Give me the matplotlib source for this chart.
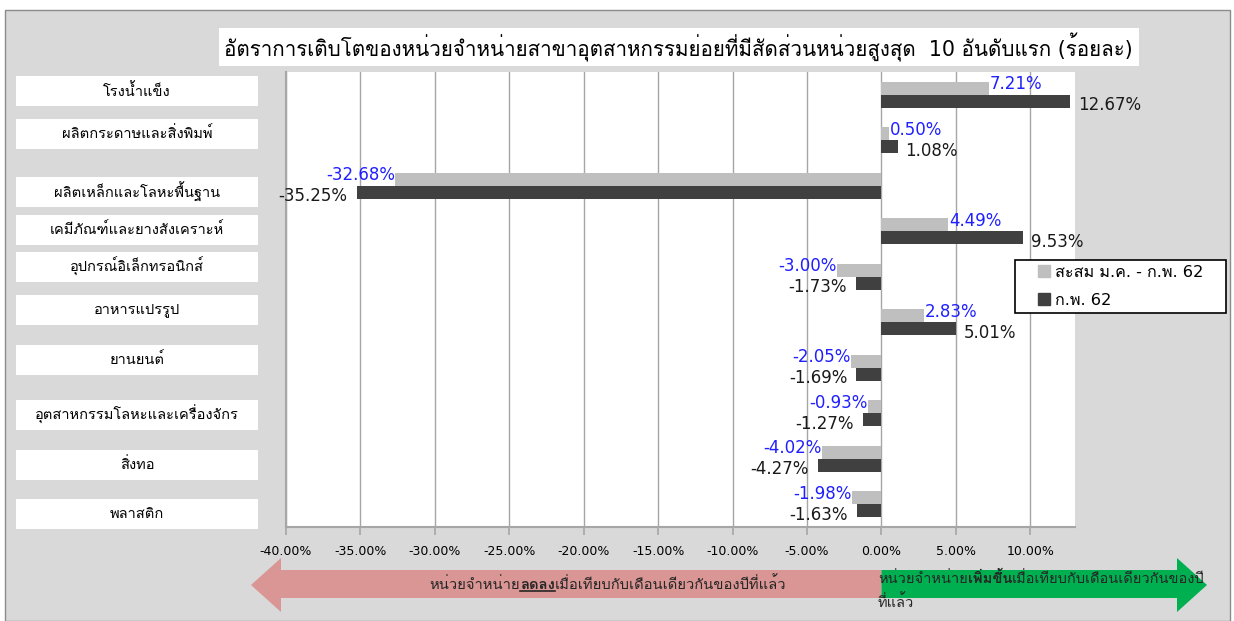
import matplotlib
matplotlib.use("Agg")
import matplotlib.pyplot as plt
import matplotlib.patches as patches
from matplotlib import font_manager as fm
from matplotlib.lines import Line2D
from matplotlib.transforms import blended_transform_factory
import numpy as np

# data
categories = ["โรงน้ำแข็ง", "ผลิตกระดาษและสิ่งพิมพ์", "ผลิตเหล็กและโลหะพื้นฐาน",
              "เคมีภัณฑ์และยางสังเคราะห์", "อุปกรณ์อิเล็กทรอนิกส์", "อาหารแปรรูป",
              "ยานยนต์", "อุตสาหกรรมโลหะและเครื่องจักร", "สิ่งทอ", "พลาสติก"]
ytd = [7.21, 0.50, -32.68, 4.49, -3.00, 2.83, -2.05, -0.93, -4.02, -1.98]
feb = [12.67, 1.08, -35.25, 9.53, -1.73, 5.01, -1.69, -1.27, -4.27, -1.63]
series_names = ["สะสม ม.ค. - ก.พ. 62", "ก.พ. 62"]
x_ticks = np.arange(-40, 11, 5)
title = "อัตราการเติบโตของหน่วยจำหน่ายสาขาอุตสาหกรรมย่อยที่มีสัดส่วนหน่วยสูงสุด  10 อันดับแรก (ร้อยละ)"
down_parts = [("หน่วยจำหน่าย", False), ("ลดลง", True), ("เมื่อเทียบกับเดือนเดียวกันของปีที่แล้ว", False)]
up_parts = [("หน่วยจำหน่าย", False), ("เพิ่มขึ้น", True), ("เมื่อเทียบกับเดือนเดียวกันของปี", False)]
up_wrap = "ที่แล้ว"

# layout (pixels)
W, H = 1234, 621
box_nudge = [-4, -6.5, 6, -1.5, -10, -12.5, -8, 1.5, 6, 9.5]

names = {f.name for f in fm.fontManager.ttflist}
thai = next((n for n in ["Loma", "Sarabun", "Noto Sans Thai Looped", "Noto Sans Thai"]
             if n in names), "DejaVu Sans")
plt.rcParams["font.family"] = ["DejaVu Sans", thai]

LIGHT, DARK = "#bfbfbf", "#404040"


def fx(px):
    return px / W


def fy(py):
    return 1 - py / H


fig = plt.figure(figsize=(W / 100, H / 100), dpi=100)
fig.patch.set_facecolor("white")
renderer = fig.canvas.get_renderer()


def fit(t, target_px):
    # scale the font so the text spans the width seen in the reference
    w = t.get_window_extent(renderer).width
    t.set_fontsize(t.get_fontsize() * target_px / w)
    return t.get_fontsize()


fig.add_artist(patches.Rectangle((fx(5), 0), fx(1230 - 5), 1 - 10 / H, transform=fig.transFigure,
                                 facecolor="#d9d9d9", edgecolor="#8c8c8c", lw=1, zorder=0))

# title box
fig.add_artist(patches.Rectangle((fx(219), fy(66)), fx(1139 - 219), 38 / H, transform=fig.transFigure,
                                 facecolor="white", edgecolor="none", zorder=1))
ttl = fig.text(fx(678), fy(47), title, ha="center", va="center", fontsize=14, color="black", zorder=2)
fit(ttl, 908)

ax = fig.add_axes([fx(286), fy(527), fx(1075 - 286), (527 - 72) / H])
ax.set_facecolor("white")
y = np.arange(len(categories))
h = 0.286
ax.barh(y - h / 2, ytd, height=h, color=LIGHT, zorder=3)
ax.barh(y + h / 2, feb, height=h, color=DARK, zorder=3)
ax.set_xlim(-40, 13)
ax.set_ylim(len(categories) - 0.5, -0.5)
ax.set_yticks([])
ax.set_xticks(x_ticks)
ax.set_xticklabels([f"{v:.2f}%" for v in x_ticks])
ax.grid(axis="x", color="#a6a6a6", lw=1)
ax.set_axisbelow(True)
for s in ["top", "right"]:
    ax.spines[s].set_visible(False)
for s in ["left", "bottom"]:
    ax.spines[s].set_color("#a6a6a6")
    ax.spines[s].set_linewidth(1.5)
ax.tick_params(axis="x", direction="out", length=6, color="#a6a6a6", width=1.2,
               labelsize=9, pad=7, labelcolor="black")

pt = 72 / 100  # pixels -> points
for i in range(len(categories)):
    v = ytd[i]
    ax.annotate(f"{v:.2f}%", (v, y[i] - h / 2), xytext=((1 if v >= 0 else 0) * pt, 4 * pt),
                textcoords="offset points", ha="left" if v >= 0 else "right", va="center",
                fontsize=12, color="#1f1fff", zorder=5)
    v = feb[i]
    ax.annotate(f"{v:.2f}%", (v, y[i] + h / 2), xytext=((8 if v >= 0 else -9) * pt, -4 * pt),
                textcoords="offset points", ha="left" if v >= 0 else "right", va="center",
                fontsize=12, color="#1a1a1a", zorder=5)

# category label boxes
bt = blended_transform_factory(fig.transFigure, ax.transData)
row_px = (527 - 72) / len(categories)
probe = fig.text(0, 0, max(categories, key=len), fontsize=11)
cat_size = fit(probe, 204)
probe.remove()
for i, cat in enumerate(categories):
    yc = y[i] + box_nudge[i] / row_px
    fig.add_artist(patches.Rectangle((fx(16), yc - 15 / row_px), fx(242), 30 / row_px, transform=bt,
                                     facecolor="white", edgecolor="none", zorder=1))
    fig.text(fx(137), yc, cat, transform=bt, ha="center", va="center", fontsize=cat_size,
             color="black", zorder=2)

# legend
probe = fig.text(0, 0, series_names[0], fontsize=11)
leg_size = fit(probe, 149)
probe.remove()
handles = [Line2D([], [], ls="none", marker="s", markersize=8.5, color=c) for c in (LIGHT, DARK)]
leg = fig.legend(handles, series_names, loc="upper left",
                 bbox_to_anchor=(fx(1015), fy(314), fx(211), 54 / H), mode="expand",
                 frameon=True, fancybox=False, edgecolor="black", facecolor="white", framealpha=1,
                 fontsize=leg_size, handlelength=3.0, handletextpad=-0.81, borderpad=0.3,
                 labelspacing=0.8, borderaxespad=0)
leg.get_frame().set_linewidth(1.2)
leg.set_zorder(6)

# arrows
x0 = fig.transFigure.inverted().transform(ax.transData.transform((0, 0)))[0] * W
pink = [(251, 585), (281, 558), (281, 570), (x0, 570), (x0, 598), (281, 598), (281, 612)]
green = [(x0, 570), (1177, 570), (1177, 558), (1207, 585), (1177, 612), (1177, 598), (x0, 598)]
for pts, col in [(pink, "#da9694"), (green, "#00b050")]:
    fig.add_artist(patches.Polygon([(fx(a), fy(b)) for a, b in pts], closed=True, transform=fig.transFigure,
                                   facecolor=col, edgecolor="none", zorder=1))


def rich_line(parts, x, yb, target, center=False, underline=False, size=10.5):
    texts = []
    for s, bold in parts:
        t = fig.text(0, fy(yb), s, fontsize=size, fontweight="bold" if bold else "normal",
                     ha="left", va="baseline", color="#262626", zorder=3)
        texts.append(t)
    total = sum(t.get_window_extent(renderer).width for t in texts)
    for t in texts:
        t.set_fontsize(size * target / total)
    widths = [t.get_window_extent(renderer).width for t in texts]
    cur = x - sum(widths) / 2 if center else x
    for t, wdt, (s, bold) in zip(texts, widths, parts):
        t.set_x(fx(cur))
        if bold and underline:
            fig.add_artist(Line2D([fx(cur), fx(cur + wdt)], [fy(yb + 2), fy(yb + 2)],
                                  transform=fig.transFigure, color="#262626", lw=1.2, zorder=3))
        cur += wdt
    return texts[0].get_fontsize()


rich_line(down_parts, 608, 589, 357, center=True, underline=True)
up_size = rich_line(up_parts, 878, 583, 327)
fig.text(fx(878), fy(607), up_wrap, fontsize=up_size, ha="left", va="baseline", color="#262626", zorder=3)

fig.savefig("out.png", dpi=100)
